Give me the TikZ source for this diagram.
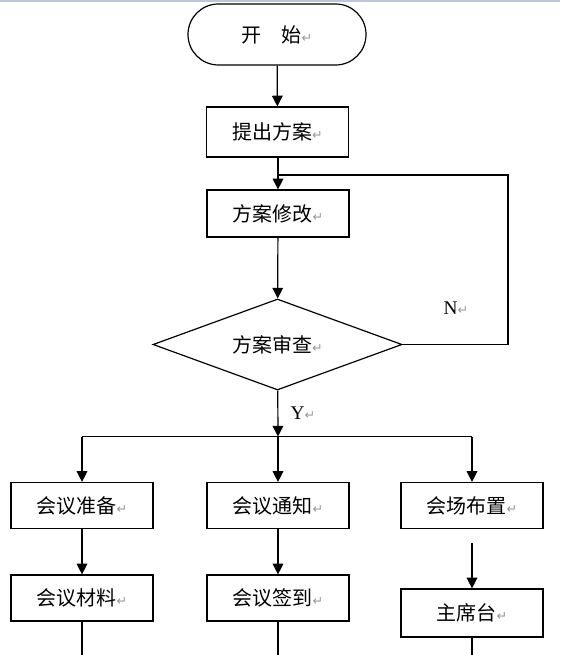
\documentclass[tikz,border=0pt]{standalone}
\usepackage{fontspec}
\setmainfont{Liberation Serif}
\newfontfamily\cjk{Noto Sans CJK SC}
\newfontfamily\retfont{DejaVu Sans}
\usepackage{xcolor}
\usetikzlibrary{arrows.meta,shapes.geometric}
\newcommand{\ret}{{\retfont\fontsize{9.5}{9.5}\selectfont\color[RGB]{150,150,150}↵}}

\begin{document}
\begin{tikzpicture}[x=0.75pt,y=0.75pt,yscale=-1,xscale=1,
    line width=0.9pt,
    every node/.style={font=\cjk\fontsize{15}{17}\selectfont},
    stepbox/.style={draw,rectangle,minimum width=106.5pt,minimum height=34.5pt,inner sep=0pt},
    termbox/.style={draw,rectangle,rounded corners=22.8pt,minimum width=133.5pt,minimum height=45.75pt,inner sep=0pt},
    testbox/.style={draw,diamond,aspect=2.74,minimum width=186.75pt,minimum height=68.25pt,inner sep=0pt},
    flow/.style={-{Triangle[width=8pt,length=8pt]}},
    yn/.style={font=\fontsize{14.5}{16}\selectfont}]
        \useasboundingbox (0,0) rectangle (560,655);
        %Top border
        \draw [color={rgb, 255:red, 188; green, 198; blue, 216 },line width=1.5pt] (0,1) -- (560,1);
        % Shape: Terminal
        \node [termbox] (start) at (277,34.5) {开　始\ret};
        % Shape: Rectangles
        \node [stepbox,minimum height=37.5pt] (propose) at (277.5,132) {提出方案\ret};
        \node [stepbox,minimum height=35.25pt] (revise) at (278,213.5) {方案修改\ret};
        % Shape: Diamond
        \node [testbox] (review) at (277.5,344.5) {方案审查\ret};
        \node [stepbox] (prep) at (82,505.5) {会议准备\ret};
        \node [stepbox] (notify) at (278,505.5) {会议通知\ret};
        \node [stepbox] (venue) at (472,505.5) {会场布置\ret};
        \node [stepbox] (material) at (82,598) {会议材料\ret};
        \node [stepbox] (signin) at (278,598) {会议签到\ret};
        \node [stepbox,minimum height=36pt] (podium) at (472,613) {主席台\ret};
        % Coordinates
        \coordinate (loopc) at (508,175);
        \coordinate (loopj) at (278,175);
        \coordinate (fork) at (278,436.5);
        \coordinate (forkl) at (82,436.5);
        \coordinate (forkr) at (472,436.5);
        \coordinate (venuec) at (472,543);
        \coordinate (endl) at (82,655);
        \coordinate (endm) at (278,655);
        \coordinate (endr) at (472,655);
        %Straight Lines
        \draw [flow] (start) -- (propose);
        \draw [flow] (propose.south -| revise) -- (revise);
        \draw [flow] (revise) -- (review);
        \draw (review.east) -| (loopc) -- (loopj);
        \draw [flow] (review) -- (fork);
        \draw (forkl) -- (forkr);
        \draw [flow] (forkl) -- (prep);
        \draw [flow] (fork) -- (notify);
        \draw [flow] (forkr) -- (venue);
        \draw [flow] (prep) -- (material);
        \draw [flow] (notify) -- (signin);
        \draw [flow] (venuec) -- (podium);
        \draw (material) -- (endl);
        \draw (signin) -- (endm);
        \draw (podium) -- (endr);
        % Text Node
        \node [yn] (nlabel) at (456,308) {N\ret};
        % Text Node
        \node [yn] (ylabel) at (303,413) {Y\ret};
\end{tikzpicture}
\end{document}
